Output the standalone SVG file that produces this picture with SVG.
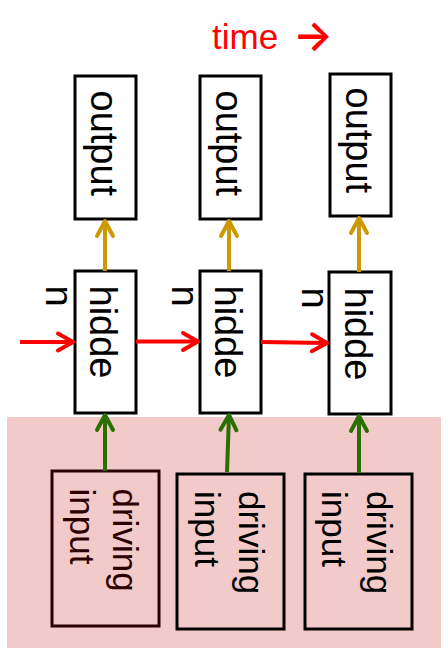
<svg xmlns="http://www.w3.org/2000/svg" width="448" height="659" viewBox="0 0 448 659">
<defs>
<style>
.box{fill:#ffffff;stroke:#000000;stroke-width:3}
.inbox{fill:none;stroke:#000000;stroke-width:3}
.lbl{font-family:"Liberation Sans",Arial,sans-serif;font-size:38px;fill:#000000}
.ilbl{font-family:"Liberation Sans",Arial,sans-serif;font-size:35px;fill:#000000}
.red{stroke:#ff0000;stroke-width:4;fill:none}
.gold{stroke:#cc9900;stroke-width:4;fill:none}
.green{stroke:#2a7000;stroke-width:4;fill:none}
</style>
<marker id="hr" markerUnits="userSpaceOnUse" viewBox="-20 -12 24 24" refX="0" refY="0" markerWidth="24" markerHeight="24" orient="auto" overflow="visible">
<path d="M-15,-8.5 L0,0 L-15,8.5" fill="none" stroke="#ff0000" stroke-width="4" stroke-linecap="round" stroke-linejoin="round"/>
</marker>
<marker id="hg" markerUnits="userSpaceOnUse" viewBox="-20 -12 24 24" refX="0" refY="0" markerWidth="24" markerHeight="24" orient="auto" overflow="visible">
<path d="M-15,-8 L0,0 L-15,8" fill="none" stroke="#cc9900" stroke-width="4" stroke-linecap="round" stroke-linejoin="round"/>
</marker>
<marker id="hv" markerUnits="userSpaceOnUse" viewBox="-20 -12 24 24" refX="0" refY="0" markerWidth="24" markerHeight="24" orient="auto" overflow="visible">
<path d="M-15,-8 L0,0 L-15,8" fill="none" stroke="#2a7000" stroke-width="4" stroke-linecap="round" stroke-linejoin="round"/>
</marker>
</defs>
<rect width="448" height="659" fill="#ffffff"/>
<rect id="input-region" x="7" y="417" width="434" height="231" fill="#f3caca"/>
<text id="time-label" x="212" y="49" font-family="'Liberation Sans',Arial,sans-serif" font-size="35" fill="#ff0000">time<tspan x="293" y="50" font-family="Inter,'Noto Sans CJK JP',sans-serif" font-size="42" font-weight="600">→</tspan></text>
<g id="output1"><rect class="box" x="75" y="76" width="61" height="143"/><text class="lbl" transform="translate(91,90.5) rotate(90)">output</text></g>
<g id="output2"><rect class="box" x="200" y="76" width="61" height="143"/><text class="lbl" transform="translate(216,90.5) rotate(90)">output</text></g>
<g id="output3"><rect class="box" x="330" y="74" width="61" height="142"/><text class="lbl" transform="translate(346,87.5) rotate(90)">output</text></g>
<g id="hidden1"><rect class="box" x="75" y="271" width="61" height="142"/><text class="lbl" transform="translate(90,285.5) rotate(90)"><tspan x="0" y="0">hidde</tspan><tspan x="0" y="44">n</tspan></text></g>
<g id="hidden2"><rect class="box" x="200" y="271" width="61" height="142"/><text class="lbl" transform="translate(215,285.5) rotate(90)"><tspan x="0" y="0">hidde</tspan><tspan x="0" y="43">n</tspan></text></g>
<g id="hidden3"><rect class="box" x="329" y="272" width="62" height="142"/><text class="lbl" transform="translate(345,287.5) rotate(90)"><tspan x="0" y="0">hidde</tspan><tspan x="0" y="43">n</tspan></text></g>
<g id="input1"><rect class="inbox" x="52" y="471" width="107" height="155" style="stroke:#2a0000"/><text class="ilbl" style="fill:#2a0000" transform="translate(113,488.5) rotate(90)"><tspan x="0" y="0">driving</tspan><tspan x="0" y="43">input</tspan></text></g>
<g id="input2"><rect class="inbox" x="177" y="474" width="107" height="155"/><text class="ilbl" transform="translate(239,491) rotate(90)"><tspan x="0" y="0">driving</tspan><tspan x="0" y="44">input</tspan></text></g>
<g id="input3"><rect class="inbox" x="305" y="474" width="107" height="155"/><text class="ilbl" transform="translate(367,491) rotate(90)"><tspan x="0" y="0">driving</tspan><tspan x="0" y="45">input</tspan></text></g>
<g id="connectors">
<line class="red" x1="20" y1="342" x2="73" y2="342" marker-end="url(#hr)"/>
<line class="red" x1="136" y1="341.5" x2="198" y2="341.5" marker-end="url(#hr)"/>
<line class="red" x1="261" y1="342" x2="327" y2="343" marker-end="url(#hr)"/>
<line class="gold" x1="105" y1="271" x2="105" y2="221" marker-end="url(#hg)"/>
<line class="gold" x1="229" y1="271" x2="229" y2="221" marker-end="url(#hg)"/>
<line class="gold" x1="359" y1="272" x2="359" y2="218" marker-end="url(#hg)"/>
<line class="green" x1="105" y1="471" x2="105" y2="415" marker-end="url(#hv)"/>
<line class="green" x1="227" y1="472" x2="229" y2="415" marker-end="url(#hv)"/>
<line class="green" x1="359" y1="473" x2="359" y2="416" marker-end="url(#hv)"/>
</g>
</svg>
